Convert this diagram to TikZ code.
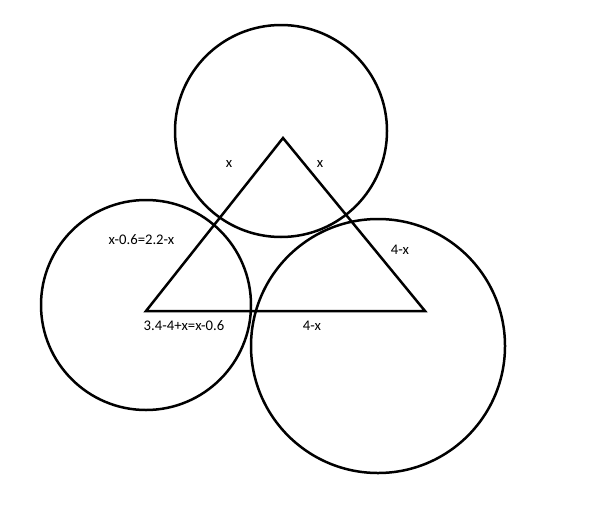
\documentclass[tikz,border=0pt]{standalone}
\usepackage{fontspec}
\setmainfont{Carlito}
\usepackage{tikz}

\begin{document}
\begin{tikzpicture}[x=1pt,y=-1pt,
                    every node/.style={font=\fontsize{14.7}{17}\selectfont, inner sep=0pt},
                    every path/.style={line width=2.5pt}]
\useasboundingbox (0,0) rectangle (593,506);
% circles
\draw (281,131) circle (106);
\draw (146,305) circle (105);
\draw (378,346) circle (127);
% triangle
\coordinate (apex) at (283,138);
\coordinate (left) at (146,311);
\coordinate (right) at (425,311);
\draw[line join=miter] (apex) -- (left) -- (right) -- cycle;
% labels
\node (xleft) at (229,164) {x};
\node (xright) at (320,164) {x};
\node (lefteq) at (141.5,240) {x-0.6=2.2-x};
\node (baseeq) at (184,326) {3.4-4+x=x-0.6};
\node (basex) at (312,326) {4-x};
\node (sidex) at (400,250) {4-x};
\end{tikzpicture}
\end{document}
